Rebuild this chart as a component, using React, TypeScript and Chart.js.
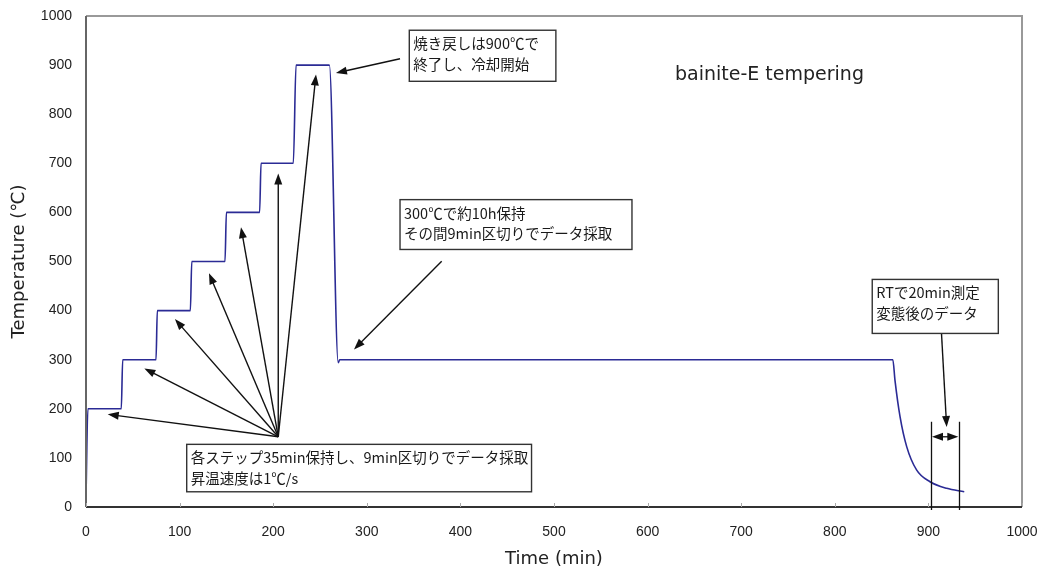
import React, { useEffect, useRef } from "react";
import { Chart, registerables } from "chart.js";

Chart.register(...registerables);

// ---- data (time in min, temperature in °C) ----
const timeMin = [
  0, 2, 37.7, 39.2, 74.8, 76.2, 111.5, 113, 148.5, 150, 185.5, 187, 221.5, 224.4, 260, 269.5, 271,
  862, 864.3, 869.7, 876.8, 887.5, 901.7, 919.5, 938.3,
];
const tempC = [
  20, 200, 200, 300, 300, 400, 400, 500, 500, 600, 600, 700, 700, 900, 900, 294, 300,
  300, 258, 184, 123, 75, 51.5, 38, 31,
];

const xTickValues = [0, 100, 200, 300, 400, 500, 600, 700, 800, 900, 1000];
const yTickValues = [0, 100, 200, 300, 400, 500, 600, 700, 800, 900, 1000];

const xTitle = "Time (min)";
const yTitle = "Temperature (℃)";
const chartLabel = "bainite-E tempering";
const chartLabelAt = [629.3, 880];

// fan of arrows (annotation) in data coordinates
const fanOrigin = [205.4, 143];
const fanTargets = [
  [23.2, 188.7],
  [62.3, 282],
  [95, 382.7],
  [131.4, 476],
  [165.6, 570],
  [205.4, 679],
  [245.7, 881],
];

const noteBoxes = [
  { x0: 345.4, x1: 502, y0: 971, y1: 867, lines: ["焼き戻しは900℃で", "終了し、冷却開始"] },
  { x0: 335.5, x1: 583.3, y0: 626, y1: 524.5, lines: ["300℃で約10h保持", "その間9min区切りでデータ採取"] },
  { x0: 107.6, x1: 476, y0: 127.6, y1: 31, lines: ["各ステップ35min保持し、9min区切りでデータ採取", "昇温速度は1℃/s"] },
  { x0: 840, x1: 974.7, y0: 463.5, y1: 353.5, lines: ["RTで20min測定", "変態後のデータ"] },
];

const noteArrows = [
  [[335.5, 913], [267, 884]],
  [[380, 500.7], [286.3, 321]],
  [[914, 353.5], [919.5, 163]],
];

const rtWindow = [902.8, 933];
const rtWindowTop = 173.6;
const rtArrowLevel = 143;

function arrowHead(ctx: CanvasRenderingContext2D, x0: number, y0: number, x1: number, y1: number) {
  const a = Math.atan2(y1 - y0, x1 - x0);
  const len = 11;
  const w = 4;
  ctx.beginPath();
  ctx.moveTo(x1, y1);
  ctx.lineTo(x1 - len * Math.cos(a) + w * Math.sin(a), y1 - len * Math.sin(a) - w * Math.cos(a));
  ctx.lineTo(x1 - len * Math.cos(a) - w * Math.sin(a), y1 - len * Math.sin(a) + w * Math.cos(a));
  ctx.closePath();
  ctx.fill();
}

function arrow(ctx: CanvasRenderingContext2D, x0: number, y0: number, x1: number, y1: number) {
  const a = Math.atan2(y1 - y0, x1 - x0);
  ctx.beginPath();
  ctx.moveTo(x0, y0);
  ctx.lineTo(x1 - 8 * Math.cos(a), y1 - 8 * Math.sin(a));
  ctx.stroke();
  arrowHead(ctx, x0, y0, x1, y1);
}

const annotationPlugin = {
  id: "annotations",
  afterDraw(chart: any) {
    const ctx: CanvasRenderingContext2D = chart.ctx;
    const xs = chart.scales.x;
    const ys = chart.scales.y;
    const X = (v: number) => xs.getPixelForValue(v);
    const Y = (v: number) => ys.getPixelForValue(v);
    const { left, right, top, bottom } = chart.chartArea;
    ctx.save();

    // frame
    ctx.lineWidth = 2;
    ctx.strokeStyle = "#999";
    ctx.beginPath();
    ctx.moveTo(left, top);
    ctx.lineTo(right, top);
    ctx.lineTo(right, bottom);
    ctx.stroke();
    ctx.strokeStyle = "#666";
    ctx.beginPath();
    ctx.moveTo(left, top);
    ctx.lineTo(left, bottom);
    ctx.stroke();
    ctx.strokeStyle = "#333";
    ctx.beginPath();
    ctx.moveTo(left, bottom);
    ctx.lineTo(right, bottom);
    ctx.stroke();

    // inward x ticks
    ctx.strokeStyle = "#aaa";
    ctx.lineWidth = 1;
    for (const t of xTickValues) {
      const px = Math.round(X(t)) + 0.5;
      ctx.beginPath();
      ctx.moveTo(px, bottom);
      ctx.lineTo(px, bottom - 4);
      ctx.stroke();
    }

    // arrows
    ctx.strokeStyle = "#111";
    ctx.fillStyle = "#111";
    ctx.lineWidth = 1.4;
    for (const t of fanTargets) {
      arrow(ctx, X(fanOrigin[0]), Y(fanOrigin[1]), X(t[0]), Y(t[1]));
    }
    for (const a of noteArrows) {
      arrow(ctx, X(a[0][0]), Y(a[0][1]), X(a[1][0]), Y(a[1][1]));
    }

    // RT window
    ctx.lineWidth = 1.3;
    for (const w of rtWindow) {
      const px = Math.round(X(w)) + 0.5;
      ctx.beginPath();
      ctx.moveTo(px, Y(rtWindowTop));
      ctx.lineTo(px, bottom + 3);
      ctx.stroke();
    }
    const ay = Y(rtArrowLevel);
    const ax0 = X(rtWindow[0]) + 1;
    const ax1 = X(rtWindow[1]) - 1;
    ctx.beginPath();
    ctx.moveTo(ax0 + 6, ay);
    ctx.lineTo(ax1 - 6, ay);
    ctx.stroke();
    arrowHead(ctx, ax0 + 10, ay, ax0, ay);
    arrowHead(ctx, ax1 - 10, ay, ax1, ay);

    // boxes
    ctx.font = '14.5px "Noto Sans CJK JP", sans-serif';
    ctx.textBaseline = "middle";
    ctx.textAlign = "left";
    for (const b of noteBoxes) {
      const bx = X(b.x0);
      const by = Y(b.y0);
      const bw = X(b.x1) - bx;
      const bh = Y(b.y1) - by;
      ctx.fillStyle = "#fff";
      ctx.fillRect(bx, by, bw, bh);
      ctx.strokeStyle = "#333";
      ctx.lineWidth = 1.4;
      ctx.strokeRect(bx, by, bw, bh);
      ctx.fillStyle = "#1a1a1a";
      b.lines.forEach((ln, i) => {
        ctx.fillText(ln, bx + 4, by + 13.5 + i * 20.5);
      });
    }

    // chart label
    ctx.font = '19px "DejaVu Sans", sans-serif';
    ctx.fillStyle = "#222";
    ctx.textAlign = "left";
    ctx.fillText(chartLabel, X(chartLabelAt[0]), Y(chartLabelAt[1]));

    ctx.restore();
  },
};

export default function App() {
  const ref = useRef<HTMLCanvasElement | null>(null);
  useEffect(() => {
    if (!ref.current) return;
    const points = timeMin.map((t, i) => ({ x: t, y: tempC[i] }));
    const chart = new Chart(ref.current, {
      type: "line",
      data: {
        datasets: [
          {
            data: points,
            borderColor: "#2b2b95",
            borderWidth: 1.6,
            pointRadius: 0,
            fill: false,
            cubicInterpolationMode: "monotone",
          },
        ],
      },
      options: {
        animation: false,
        responsive: true,
        maintainAspectRatio: false,
        layout: { padding: { left: 0, top: 16, right: 20, bottom: 0 } },
        plugins: { legend: { display: false }, tooltip: { enabled: false } },
        scales: {
          x: {
            type: "linear",
            min: 0,
            max: 1000,
            afterBuildTicks: (s: any) => {
              s.ticks = xTickValues.map((v) => ({ value: v }));
            },
            afterFit: (s: any) => {
              s.height = 65;
              s.paddingLeft = 0;
              s.paddingRight = 0;
            },
            grid: { display: false, drawTicks: false },
            border: { display: false },
            ticks: {
              padding: 17,
              color: "#222",
              font: { family: '"Liberation Sans", Arial, sans-serif', size: 14 },
              maxRotation: 0,
              callback: (v: any) => String(v),
            },
            title: {
              display: true,
              text: xTitle,
              color: "#222",
              font: { family: '"DejaVu Sans", sans-serif', size: 18 },
              padding: { top: 0, bottom: 2 },
            },
          },
          y: {
            type: "linear",
            min: 0,
            max: 1000,
            afterBuildTicks: (s: any) => {
              s.ticks = yTickValues.map((v) => ({ value: v }));
            },
            afterFit: (s: any) => {
              s.width = 86;
              s.paddingTop = 0;
              s.paddingBottom = 0;
            },
            grid: { display: false, drawTicks: false },
            border: { display: false },
            ticks: {
              padding: 14,
              color: "#222",
              font: { family: '"Liberation Sans", Arial, sans-serif', size: 14 },
              callback: (v: any) => String(v),
            },
            title: {
              display: true,
              text: yTitle,
              color: "#222",
              font: { family: '"DejaVu Sans", sans-serif', size: 18 },
              padding: { top: 9, bottom: 0 },
            },
          },
        },
      },
      plugins: [annotationPlugin],
    } as any);
    return () => chart.destroy();
  }, []);
  return (
    <div style={{ position: "absolute", left: 0, top: 0, width: 1042, height: 572, background: "#fff" }}>
      <canvas ref={ref} />
    </div>
  );
}
